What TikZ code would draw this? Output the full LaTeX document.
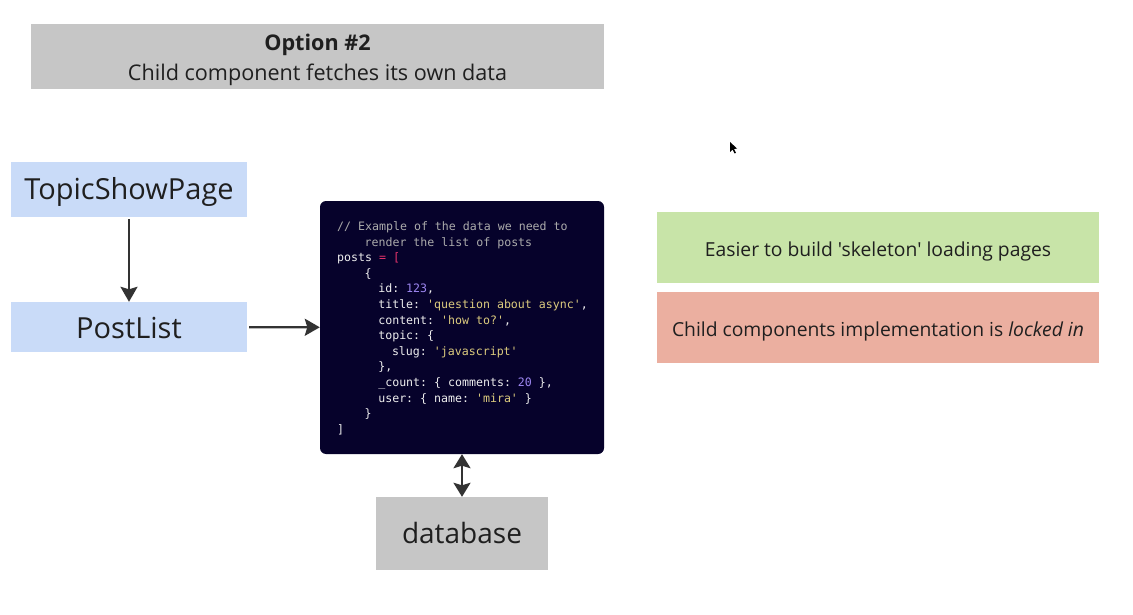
\documentclass[tikz,border=0pt]{standalone}
\usepackage{fontspec}
\setmainfont{Open Sans}[Ligatures=TeXOff]
\setmonofont{DejaVu Sans Mono}
\usetikzlibrary{arrows.meta}
\definecolor{boxgray}{HTML}{C6C6C6}
\definecolor{boxblue}{HTML}{C9DBF8}
\definecolor{boxgreen}{HTML}{C8E4A8}
\definecolor{boxred}{HTML}{EBAFA0}
\definecolor{codebg}{HTML}{06022B}
\definecolor{cw}{HTML}{EEEEEE}
\definecolor{cc}{HTML}{ABABAB}
\definecolor{cp}{HTML}{E5336B}
\definecolor{cn}{HTML}{9C86F0}
\definecolor{cs}{HTML}{DCCB7E}
\definecolor{txt}{HTML}{1F1F1F}
\definecolor{arrcol}{HTML}{333333}
\begin{document}
\begin{tikzpicture}[x=1pt,y=-1pt,
  box/.style={rectangle, inner sep=0pt, text=txt},
  arr/.style={draw=arrcol, line width=2.3pt, -{Stealth[length=15pt,width=17pt,inset=2.5pt]}},
  darr/.style={draw=arrcol, line width=2.3pt, {Stealth[length=14pt,width=17pt,inset=2.5pt]}-{Stealth[length=14pt,width=17pt,inset=2.5pt]}},
  code/.style={anchor=base west, inner sep=0pt, text=cw, font=\ttfamily\fontsize{11.6}{14}\selectfont},
  ttl/.style={anchor=base, inner sep=0pt, text=txt, font=\fontsize{21.6}{26}\selectfont}]
\useasboundingbox (0,0) rectangle (1133,615);
\fill[white] (0,0) rectangle (1133,615);

\node[box, fill=boxgray, minimum width=573pt, minimum height=65pt] (title) at (317.5,56.5) {};
\node[ttl] (t1) at (317.5,51) {\textbf{Option \#2}};
\node[ttl] (t2) at (317.5,81) {Child component fetches its own data};

\node[box, fill=boxblue, minimum width=236pt, minimum height=55pt, text height=21pt, text depth=0pt,
  font=\fontsize{29}{32}\selectfont] (tsp) at (129,189.5) {TopicShowPage};
\node[box, fill=boxblue, minimum width=236pt, minimum height=50pt, text height=22pt, text depth=0pt,
  font=\fontsize{29}{32}\selectfont] (pl) at (129,327) {PostList};

\node[box, fill=codebg, rounded corners=6pt, minimum width=284pt, minimum height=253pt] (code) at (462,327.5) {};

\node[code, text=cc] (c1) at (337,230.5) {// Example of the data we need to};
\node[code, text=cc] (c2) at (364.4,246.1) {render the list of posts};
\node[code] (c3) at (337,261.7) {posts \textcolor{cp}{=} \textcolor{cp}{[}};
\node[code] (c4) at (364.4,277.3) {\{};
\node[code] (c5) at (378.1,292.9) {id: \textcolor{cn}{123},};
\node[code] (c6) at (378.1,308.5) {title: \textcolor{cs}{'question about async'},};
\node[code] (c7) at (378.1,324.1) {content: \textcolor{cs}{'how to?'},};
\node[code] (c8) at (378.1,339.7) {topic: \{};
\node[code] (c9) at (391.8,355.3) {slug: \textcolor{cs}{'javascript'}};
\node[code] (c10) at (378.1,370.9) {\},};
\node[code] (c11) at (378.1,386.5) {\_count: \{ comments: \textcolor{cn}{20} \},};
\node[code] (c12) at (378.1,402.1) {user: \{ name: \textcolor{cs}{'mira'} \}};
\node[code] (c13) at (364.4,417.7) {\}};
\node[code] (c14) at (337,433.3) {]};

\node[box, fill=boxgreen, minimum width=442pt, minimum height=71pt, text height=17pt, text depth=0pt,
  font=\fontsize{19.3}{22}\selectfont] (pro) at (878,247.5) {Easier to build 'skeleton' loading pages};
\node[box, fill=boxred, minimum width=442pt, minimum height=71pt, text height=17pt, text depth=0pt,
  font=\fontsize{19.3}{22}\selectfont] (con) at (878,327.5) {Child components implementation is \textit{locked in}};

\node[box, fill=boxgray, minimum width=172pt, minimum height=73pt, text height=20pt, text depth=0pt,
  font=\fontsize{28}{32}\selectfont] (db) at (462,533.5) {database};

\draw[arr, shorten <=2pt] (tsp) -- (pl);
\draw[arr, shorten <=2pt] (pl) -- (code);
\draw[darr] (code) -- (db);

% mouse cursor
\fill[black] (730,142) -- (730,152) -- (732.5,149.5) -- (734.5,153.5) -- (736,152.8) -- (734,149) -- (737,148.5) -- cycle;
\end{tikzpicture}
\end{document}
